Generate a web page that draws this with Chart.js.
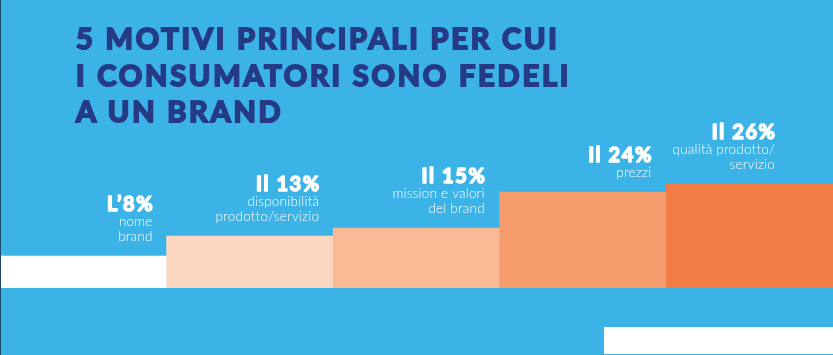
<!DOCTYPE html>
<html>
<head>
<meta charset="utf-8">
<script src="https://cdn.jsdelivr.net/npm/chart.js@4"></script>
<style>
  html, body { margin: 0; padding: 0; background: #3cb3e6; }
  #wrap { position: relative; width: 833px; height: 355px; overflow: hidden; background: #3cb3e6; }
  #wrap:before { content: ""; position: absolute; left: 0; top: 0; width: 1px; height: 355px; background: #1d4a66; z-index: 3; }
  canvas { position: absolute; left: 0; top: 0; }
  #title { position: absolute; left: 76px; top: 20px; margin: 0; font-family: Lato, "Open Sans", sans-serif; font-weight: 700; font-size: 29px; line-height: 36.5px; color: #263b86; letter-spacing: 2.8px; -webkit-text-stroke: 2px #263b86; z-index: 2; white-space: nowrap; }
  #deco { position: absolute; left: 604px; top: 327px; width: 229px; height: 27px; background: #ffffff; }
</style>
</head>
<body>
<div id="wrap">
  <canvas id="c" width="833" height="355"></canvas>
  <h1 id="title">5 MOTIVI PRINCIPALI PER CUI<br>I CONSUMATORI SONO FEDELI<br>A UN BRAND</h1>
  <div id="deco"></div>
</div>
<script>
const categories = ['nome brand', 'disponibilità prodotto/servizio', 'mission e valori del brand', 'prezzi', 'qualità prodotto/servizio'];
const values = [8, 13, 15, 24, 26];
const prefixes = ['L’', 'Il ', 'Il ', 'Il ', 'Il '];
const labelLines = [
  ['nome', 'brand'],
  ['disponibilità', 'prodotto/servizio'],
  ['mission e valori', 'del brand'],
  ['prezzi'],
  ['qualità prodotto/', 'servizio']
];
const barColors = ['#ffffff', '#fbd7c2', '#f9ba95', '#f59c6d', '#f37d46'];

const labelPlugin = {
  id: 'barLabels',
  afterDatasetsDraw(chart, args, opts) {
    const ctx = chart.ctx;
    const meta = chart.getDatasetMeta(0);
    ctx.save();
    ctx.fillStyle = '#ffffff';
    ctx.strokeStyle = '#ffffff';
    ctx.lineJoin = 'round';
    ctx.textAlign = 'right';
    ctx.textBaseline = 'alphabetic';
    meta.data.forEach((bar, i) => {
      const right = bar.x + bar.width / 2 - opts.insets[i];
      const lines = labelLines[i];
      let y = bar.y - opts.gap;
      ctx.font = '300 13.5px Lato, "Open Sans", sans-serif';
      ctx.letterSpacing = '0.2px';
      for (let k = lines.length - 1; k >= 0; k--) {
        ctx.fillText(lines[k], right, y);
        y -= opts.lineStep;
      }
      ctx.font = '700 20px Lato, "Open Sans", sans-serif';
      ctx.letterSpacing = '1.6px';
      ctx.lineWidth = 1.5;
      const head = prefixes[i] + values[i] + '%';
      ctx.fillText(head, right + 1.6, y + 0.5);
      ctx.strokeText(head, right + 1.6, y + 0.5);
    });
    ctx.restore();
  }
};

new Chart(document.getElementById('c'), {
  type: 'bar',
  data: {
    labels: categories,
    datasets: [{
      data: values,
      backgroundColor: barColors,
      borderWidth: 0,
      categoryPercentage: 1.0,
      barPercentage: 1.0
    }]
  },
  options: {
    responsive: false,
    animation: false,
    layout: { padding: { left: 0, right: 0, top: 88, bottom: 67 } },
    plugins: {
      legend: { display: false },
      tooltip: { enabled: false },
      barLabels: { insets: [14, 14, 15, 15, 58], gap: 15, lineStep: 15.5 }
    },
    scales: {
      x: { display: false, offset: true, grid: { display: false } },
      y: { display: false, min: 0, max: 50, grid: { display: false } }
    }
  },
  plugins: [labelPlugin]
});
</script>
</body>
</html>
